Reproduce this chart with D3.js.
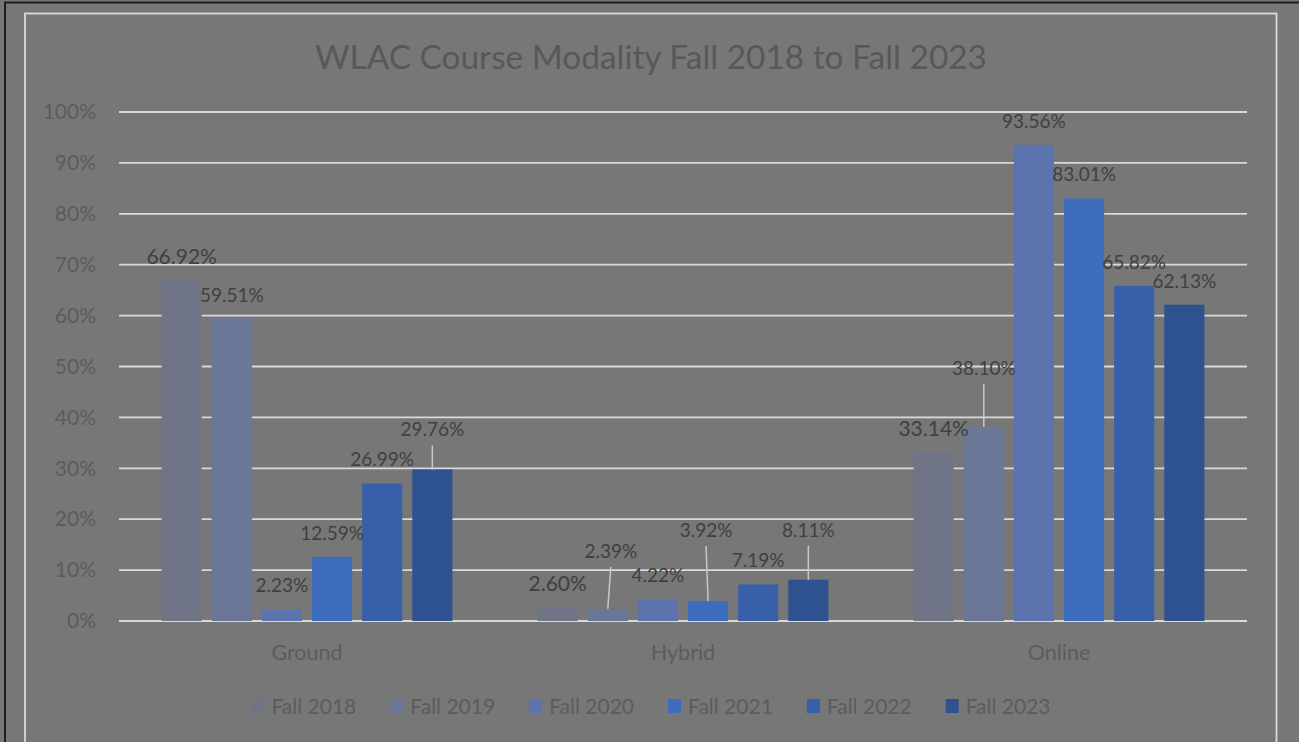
<!DOCTYPE html>
<html>
<head>
<meta charset="utf-8">
<script src="https://cdn.jsdelivr.net/npm/d3@7"></script>
<style>
	body { margin: 0; background: #777777; }
	svg { display: block; font-family: Lato, 'Open Sans', sans-serif; }
</style>
</head>
<body>
<div id="chart"></div>
<script>
/***********************************************************************/
//Data
/***********************************************************************/
const categories = ['Ground', 'Hybrid', 'Online']
const seasons = ['Fall 2018', 'Fall 2019', 'Fall 2020', 'Fall 2021', 'Fall 2022', 'Fall 2023']

const fall2018 = [66.92, 2.60, 33.14]
const fall2019 = [59.51, 2.39, 38.10]
const fall2020 = [2.23, 4.22, 93.56]
const fall2021 = [12.59, 3.92, 83.01]
const fall2022 = [26.99, 7.19, 65.82]
const fall2023 = [29.76, 8.11, 62.13]

const yTickValues = [0, 10, 20, 30, 40, 50, 60, 70, 80, 90, 100]

const seriesValues = [fall2018, fall2019, fall2020, fall2021, fall2022, fall2023]
const colors = ['#6f7586', '#6b7797', '#5b74ad', '#3f6dbe', '#3860a8', '#2e5190']

// labels Excel had dragged away from their bars: [dx, dy] in px, leader line or not
const labelMoves = {
	'Fall 2019|Ground': { dx: 0, dy: 1, leader: false },
	'Fall 2023|Ground': { dx: 0, dy: -16, leader: true },
	'Fall 2019|Hybrid': { dx: 3, dy: -34, leader: true },
	'Fall 2021|Hybrid': { dx: -2, dy: -47, leader: true },
	'Fall 2023|Hybrid': { dx: 0, dy: -26, leader: true },
	'Fall 2019|Online': { dx: 0, dy: -35, leader: true }
}

const rows = []
seasons.forEach((season, si) => {
	categories.forEach((cat, ci) => {
		rows.push({ season, cat, value: seriesValues[si][ci], color: colors[si] })
	})
})

/***********************************************************************/
//Plot Area
/***********************************************************************/
const width = 1299
const height = 742
const plot = { left: 119, right: 1247, top: 112, bottom: 621 }

const svg = d3.select('#chart').append('svg')
	.attr('width', width)
	.attr('height', height)

svg.append('rect')
	.attr('width', width).attr('height', height)
	.attr('fill', '#777777')

// outer dark frame (only top and left visible in the screenshot)
svg.append('path')
	.attr('d', `M5,${height}L5,2.5L${width},2.5`)
	.attr('fill', 'none')
	.attr('stroke', '#1e1e1e')
	.attr('stroke-width', 2)

svg.append('rect')
	.attr('x', 25).attr('y', 13.5)
	.attr('width', 1251.5).attr('height', 760)
	.attr('fill', 'none')
	.attr('stroke', '#d9d9d9')
	.attr('stroke-width', 1.8)

svg.append('text')
	.attr('x', 651)
	.attr('y', 69)
	.attr('text-anchor', 'middle')
	.attr('font-size', '33.4px')
	.attr('fill', '#585858')
	.text('WLAC Course Modality Fall 2018 to Fall 2023')

/***********************************************************************/
//Scale
/***********************************************************************/
const yScale = d3.scaleLinear()
	.domain([0, 100])
	.range([plot.bottom, plot.top])

const x0 = d3.scaleBand()
	.domain(categories)
	.range([plot.left, plot.right])
	.paddingInner(0.2)
	.paddingOuter(0.1)

const x1 = d3.scaleBand()
	.domain(seasons)
	.range([0, x0.bandwidth()])
	.paddingInner(0.2)
	.paddingOuter(0.1)

/***********************************************************************/
//Axes
/***********************************************************************/
svg.append('g')
	.selectAll('line')
	.data(yTickValues)
	.join('line')
	.attr('x1', plot.left).attr('x2', plot.right)
	.attr('y1', d => yScale(d)).attr('y2', d => yScale(d))
	.attr('stroke', '#d9d9d9')
	.attr('stroke-width', 1.8)

const yAxisG = svg.append('g')
	.attr('transform', `translate(${plot.left},0)`)
	.call(d3.axisLeft(yScale)
		.tickValues(yTickValues)
		.tickFormat(d => d + '%')
		.tickSize(0)
		.tickPadding(23))

yAxisG.select('.domain').remove()
yAxisG.selectAll('text')
	.attr('font-family', 'Lato, sans-serif')
	.attr('font-size', '21px')
	.attr('fill', '#5c5c5c')

const xAxisG = svg.append('g')
	.attr('transform', `translate(0,${plot.bottom})`)
	.call(d3.axisBottom(x0).tickSize(0).tickPadding(24))

xAxisG.select('.domain').remove()
xAxisG.selectAll('text')
	.attr('font-family', 'Lato, sans-serif')
	.attr('font-size', '21.5px')
	.attr('fill', '#5c5c5c')

/***********************************************************************/
//Bars
/***********************************************************************/
const barX = d => x0(d.cat) + x1(d.season)

svg.append('g')
	.selectAll('rect')
	.data(rows)
	.join('rect')
	.attr('x', barX)
	.attr('y', d => yScale(d.value))
	.attr('width', x1.bandwidth())
	.attr('height', d => yScale(0) - yScale(d.value))
	.attr('fill', d => d.color)

/***********************************************************************/
//Labels
/***********************************************************************/
const labelPos = d => {
	const move = labelMoves[d.season + '|' + d.cat] || { dx: 0, dy: 0, leader: false }
	const cx = barX(d) + x1.bandwidth() / 2
	const top = yScale(d.value)
	return { cx, top, x: cx + move.dx, y: top - 24 + move.dy, leader: move.leader }
}

const gLabels = svg.append('g')

gLabels.selectAll('line')
	.data(rows.filter(d => labelPos(d).leader))
	.join('line')
	.attr('x1', d => labelPos(d).x)
	.attr('y1', d => labelPos(d).y + 16)
	.attr('x2', d => labelPos(d).cx)
	.attr('y2', d => labelPos(d).top)
	.attr('stroke', '#c8c8c8')
	.attr('stroke-width', 1.5)

gLabels.selectAll('text')
	.data(rows)
	.join('text')
	.attr('x', d => labelPos(d).x)
	.attr('y', d => labelPos(d).y)
	.attr('dy', '0.36em')
	.attr('text-anchor', 'middle')
	.attr('font-size', d => d.season === 'Fall 2018' ? '21px' : '19px')
	.attr('fill', '#404040')
	.text(d => d.value.toFixed(2) + '%')

/***********************************************************************/
//Legend
/***********************************************************************/
const legend = svg.append('g')
let cursor = 0
seasons.forEach((season, i) => {
	const item = legend.append('g').attr('transform', `translate(${cursor},0)`)
	item.append('rect')
		.attr('x', 0).attr('y', -7)
		.attr('width', 13).attr('height', 14)
		.attr('fill', colors[i])
	const t = item.append('text')
		.attr('x', 20)
		.attr('dy', '0.36em')
		.attr('font-size', '21px')
		.attr('fill', '#5c5c5c')
		.text(season)
	cursor += 20 + t.node().getComputedTextLength() + (i < seasons.length - 1 ? 34 : 0)
})
legend.attr('transform', `translate(${651 - cursor / 2},706)`)
</script>
</body>
</html>
